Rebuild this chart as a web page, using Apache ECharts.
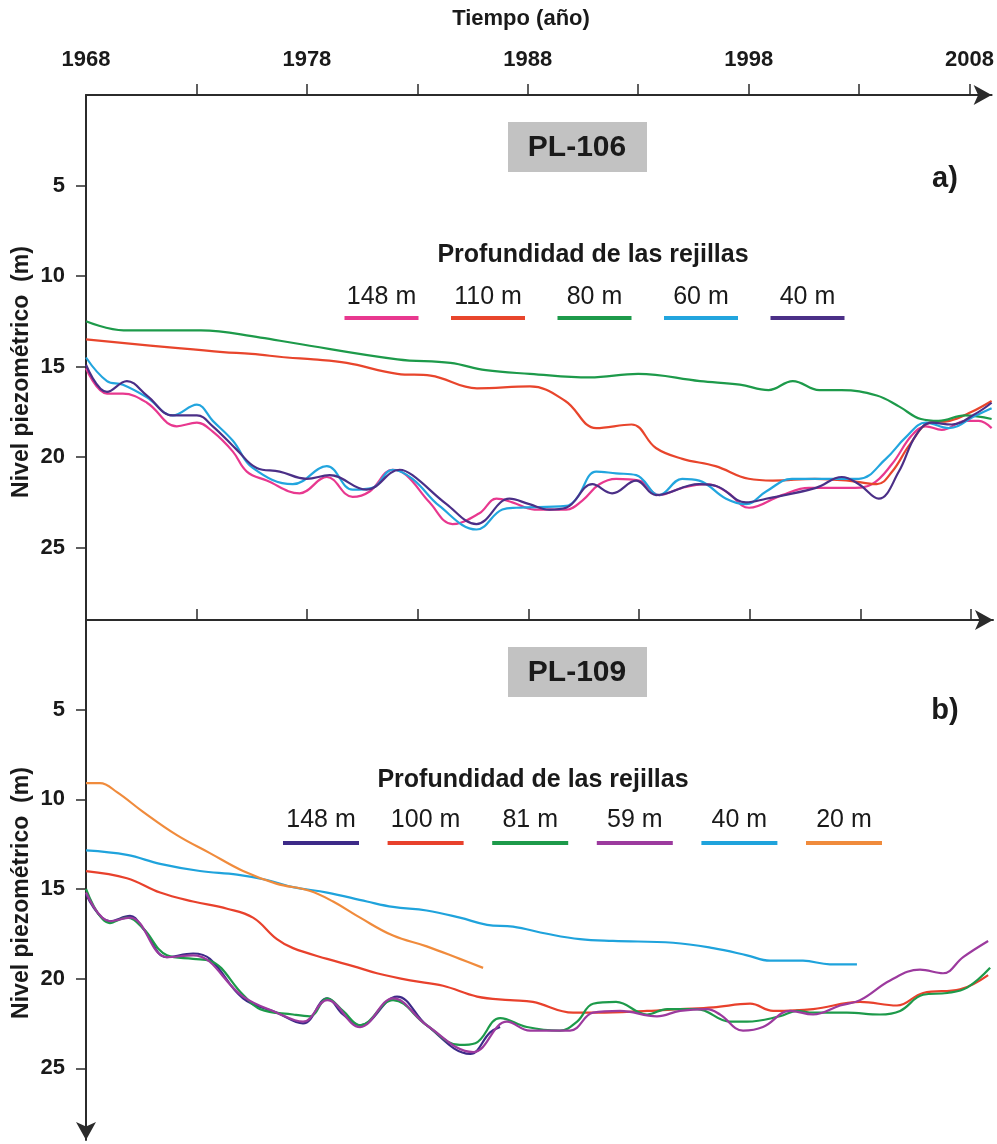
<!DOCTYPE html>
<html>
<head>
<meta charset="utf-8">
<script src="https://cdn.jsdelivr.net/npm/echarts@6/dist/echarts.min.js"></script>
<style>
  html, body { margin: 0; padding: 0; background: #fff; }
  #chart { width: 997px; height: 1144px; }
</style>
</head>
<body>
<div id="chart"></div>
<script>
// ---- datos: [año, nivel piezométrico (m)] ----
// PL-106
const a148 = [[1968,15.1],[1968.95,16.5],[1969.67,16.5],[1970.76,17.0],[1972.11,18.3],[1973.02,18.1],[1973.74,18.6],[1974.65,19.7],[1975.28,20.8],[1976.18,21.3],[1977.67,22.0],[1978.9,21.1],[1980.07,22.2],[1980.84,21.9],[1981.88,20.7],[1982.5,21.0],[1983.55,22.5],[1984.59,23.7],[1985.81,23.1],[1986.58,22.3],[1987.3,22.5],[1988.3,22.9],[1989.74,22.9],[1990.47,22.4],[1991.24,21.5],[1992.0,21.2],[1993.04,21.3],[1993.95,22.1],[1994.99,21.7],[1996.07,21.5],[1996.98,21.9],[1998.02,22.8],[1999.51,22.1],[2000.73,21.7],[2002.67,21.7],[2003.58,21.5],[2004.48,20.4],[2005.39,18.8],[2006.02,18.3],[2006.74,18.5],[2007.83,18.0],[2008.42,18.0],[2009,18.4]];
const a110 = [[1968,13.5],[1972.3,14.0],[1974.2,14.2],[1975.5,14.3],[1977.1,14.5],[1978.3,14.6],[1979.8,14.8],[1982.1,15.4],[1983.6,15.5],[1985.7,16.2],[1988.1,16.1],[1989.7,16.9],[1991.1,18.4],[1992.7,18.2],[1993.8,19.5],[1995,20.1],[1996.5,20.5],[1998,21.2],[1999.1,21.3],[2001,21.2],[2002.5,21.3],[2003.8,21.5],[2004.5,20.8],[2005.3,19.3],[2006.2,18.1],[2007.1,18.0],[2008.1,17.5],[2009,16.9]];
const a80 = [[1968,12.5],[1969.7,13.0],[1973.2,13.0],[1975.9,13.4],[1977.4,13.7],[1982.1,14.6],[1984.5,14.8],[1986.1,15.2],[1988.1,15.4],[1990.8,15.6],[1993.0,15.4],[1995.8,15.8],[1997.6,16.0],[1998.9,16.3],[2000.0,15.8],[2001.2,16.3],[2002.2,16.3],[2003.8,16.6],[2004.8,17.2],[2005.8,17.9],[2006.6,18.0],[2007.8,17.7],[2009,17.9]];
const a60 = [[1968,14.5],[1968.95,15.8],[1969.67,16.0],[1970.76,16.7],[1971.93,17.7],[1973.02,17.1],[1973.74,18.0],[1974.65,19.1],[1975.55,20.6],[1977.36,21.5],[1978.9,20.5],[1980.07,21.8],[1980.97,21.7],[1981.88,20.7],[1982.78,21.2],[1984.0,22.7],[1985.68,24.0],[1986.85,22.9],[1987.48,22.8],[1989.74,22.7],[1990.2,22.3],[1991.1,20.8],[1992.0,20.9],[1992.91,21.0],[1993.95,22.1],[1994.99,21.2],[1995.76,21.3],[1996.98,22.3],[1997.88,22.6],[1998.79,21.9],[1999.96,21.2],[2001.77,21.2],[2002.99,21.2],[2004.21,20.1],[2005.12,18.9],[2006.02,18.1],[2007.06,18.4],[2008.28,17.7],[2009,17.3]];
const a40 = [[1968,14.9],[1968.95,16.4],[1969.85,15.8],[1970.76,16.6],[1971.93,17.7],[1973.02,17.7],[1973.74,18.3],[1974.83,19.6],[1975.73,20.6],[1976.77,20.8],[1977.99,21.2],[1979.03,21.0],[1980.7,21.8],[1982.2,20.7],[1982.78,21.0],[1984.32,22.6],[1985.68,23.7],[1987.17,22.3],[1988.07,22.6],[1988.98,22.9],[1989.74,22.8],[1990.92,21.5],[1991.82,22.0],[1992.91,21.3],[1993.81,22.1],[1995.76,21.5],[1996.53,21.6],[1997.88,22.5],[1998.79,22.3],[2001.05,21.7],[2002.22,21.1],[2002.99,21.5],[2003.89,22.3],[2004.8,20.8],[2005.57,18.8],[2006.29,18.1],[2007.2,18.2],[2008.28,17.6],[2009,17.0]];
// PL-109
const b148 = [[1968,15.3],[1969.08,16.8],[1969.99,16.5],[1970.58,17.2],[1971.66,18.8],[1972.84,18.6],[1973.6,18.9],[1975.1,21.1],[1976.63,21.9],[1977.81,22.5],[1978.9,21.1],[1979.62,22.0],[1980.39,22.6],[1982.06,21.0],[1983.4,22.6],[1985.37,24.2],[1986.27,23.0],[1986.72,22.7]];
const b100 = [[1968,14.0],[1969.85,14.4],[1971.35,15.2],[1972.84,15.7],[1974.38,16.1],[1975.55,16.6],[1976.63,17.8],[1977.36,18.3],[1978.9,18.9],[1980.07,19.3],[1981.15,19.7],[1982.65,20.1],[1984.14,20.4],[1985.68,21.0],[1987.17,21.2],[1988.2,21.3],[1990.02,21.9],[1991.1,21.9],[1993.36,21.8],[1994.85,21.7],[1996.35,21.6],[1998.02,21.4],[1999.06,21.8],[2000.87,21.7],[2002.99,21.3],[2004.66,21.5],[2005.84,20.8],[2007.51,20.6],[2008.78,19.8]];
const b81 = [[1968,15.0],[1969.08,16.9],[1969.85,16.6],[1970.58,17.2],[1971.66,18.7],[1972.84,18.9],[1973.6,19.0],[1975.1,20.9],[1975.87,21.7],[1977.36,22.0],[1978.12,22.1],[1978.9,21.1],[1979.62,21.8],[1980.39,22.6],[1981.88,21.2],[1983.4,22.6],[1984.9,23.7],[1985.6,23.6],[1986.72,22.2],[1987.93,22.7],[1989.42,22.9],[1990.2,22.4],[1990.92,21.4],[1991.96,21.3],[1993.36,22.0],[1994.27,21.7],[1995.62,21.7],[1997.11,22.4],[1997.88,22.4],[1999.37,22.1],[2000.14,21.8],[2000.87,21.9],[2002.4,21.9],[2003.89,22.0],[2004.8,21.8],[2005.84,20.9],[2006.93,20.8],[2007.83,20.5],[2008.87,19.4]];
const b59 = [[1968,15.2],[1969.08,16.8],[1969.99,16.6],[1971.66,18.8],[1972.84,18.7],[1975.1,21.0],[1976.63,21.9],[1977.81,22.4],[1978.9,21.2],[1980.39,22.7],[1981.88,21.1],[1983.4,22.6],[1985.5,24.1],[1987.03,22.4],[1988.07,22.9],[1989.88,22.9],[1990.92,21.9],[1992.14,21.8],[1993.81,22.1],[1994.85,21.8],[1996.07,21.7],[1996.66,22.0],[1997.7,22.9],[1998.6,22.7],[1999.83,21.8],[2000.87,22.0],[2002.09,21.5],[2002.99,21.2],[2004.35,20.1],[2005.7,19.5],[2006.74,19.7],[2007.65,18.8],[2008.78,17.9]];
const b40 = [[1968,12.85],[1969.85,13.1],[1971.35,13.6],[1973.15,14.0],[1974.83,14.2],[1976.18,14.5],[1977.36,14.9],[1978.9,15.2],[1980.7,15.7],[1981.88,16.0],[1983.4,16.2],[1984.9,16.6],[1986.13,17.0],[1987.3,17.1],[1988.84,17.5],[1990.33,17.8],[1991.82,17.9],[1994.54,18.0],[1996.35,18.3],[1997.88,18.7],[1998.92,19.0],[2000.41,19.0],[2001.63,19.2],[2002.85,19.2]];
const b20 = [[1968,9.1],[1968.63,9.1],[1969.4,9.6],[1970.58,10.7],[1972.11,12.0],[1973.6,13.0],[1975.1,14.0],[1976.6,14.7],[1978.1,15.1],[1979.17,15.7],[1980.39,16.6],[1981.88,17.6],[1983.4,18.2],[1984.9,18.9],[1985.95,19.4]];

const yearTicks = [1973, 1978, 1983, 1988, 1993, 1998, 2003, 2008];
const yearLabels = [1968, 1978, 1988, 1998, 2008];
const depthTicks = [5, 10, 15, 20, 25];

const namesA = ['148 m', '110 m', '80 m', '60 m', '40 m'];
const seriesA = [a148, a110, a80, a60, a40];
const colorsA = ['#e8388f', '#e8452c', '#1d9a4a', '#22a5de', '#4b2f87'];

const namesB = ['148 m', '100 m', '81 m', '59 m', '40 m', '20 m'];
const seriesB = [b148, b100, b81, b59, b40, b20];
const colorsB = ['#3d2a88', '#e8412c', '#1d9a4a', '#9c3a9e', '#1fa3dc', '#f08b3c'];

const FONT = '"Liberation Sans", Arial, sans-serif';
const AXIS_COLOR = '#2b2b2b';

const chart = echarts.init(document.getElementById('chart'), null, { renderer: 'canvas' });

function xAxisFor(gridIndex, withLabels) {
  return {
    type: 'value',
    gridIndex: gridIndex,
    position: 'top',
    min: 1968,
    max: 2009,
    axisLine: {
      show: true,
      onZero: false,
      symbol: ['none', 'arrow'],
      symbolSize: [15, 18],
      symbolOffset: [0, 0],
      lineStyle: { color: AXIS_COLOR, width: 2 }
    },
    axisTick: {
      show: true,
      customValues: yearTicks,
      length: 11,
      lineStyle: { color: AXIS_COLOR, width: 1.5 }
    },
    axisLabel: {
      show: withLabels,
      customValues: yearLabels,
      formatter: (v) => String(v),
      margin: 24,
      color: '#1a1a1a',
      fontFamily: FONT,
      fontWeight: 'bold',
      fontSize: 22
    },
    splitLine: { show: false }
  };
}

function yAxisFor(gridIndex, arrow) {
  return {
    type: 'value',
    gridIndex: gridIndex,
    inverse: true,
    min: 0,
    max: 29,
    axisLine: {
      show: true,
      onZero: false,
      // eje invertido: la flecha va en el extremo inicial (abajo)
      symbol: arrow ? ['arrow', 'none'] : ['none', 'none'],
      symbolSize: [15, 18],
      symbolOffset: [0, 0],
      lineStyle: { color: AXIS_COLOR, width: 2 }
    },
    axisTick: {
      show: true,
      customValues: depthTicks,
      length: 10,
      lineStyle: { color: AXIS_COLOR, width: 1.5 }
    },
    axisLabel: {
      customValues: depthTicks,
      margin: 21,
      color: '#1a1a1a',
      fontFamily: FONT,
      fontWeight: 'bold',
      fontSize: 22
    },
    splitLine: { show: false }
  };
}

function makeSeries(list, names, colors, idx) {
  return list.map((d, i) => ({
    name: names[i],
    type: 'line',
    xAxisIndex: idx,
    yAxisIndex: idx,
    data: d,
    smooth: 0.4,
    showSymbol: false,
    silent: true,
    lineStyle: { color: colors[i], width: 2.2 },
    z: 3
  }));
}

// leyenda: etiqueta arriba, trazo de color abajo
function legendGraphics(names, colors, cfg) {
  const out = [{
    type: 'text', x: cfg.titleX, y: cfg.titleY,
    style: { text: 'Profundidad de las rejillas', fill: '#1a1a1a', font: 'bold 25px ' + FONT, textAlign: 'center', textVerticalAlign: 'middle' }
  }];
  const n = names.length;
  names.forEach((nm, i) => {
    const cx = cfg.cx + (i - (n - 1) / 2) * cfg.step;
    out.push({
      type: 'text', x: cx, y: cfg.labelY,
      style: { text: nm, fill: '#1a1a1a', font: '25px ' + FONT, textAlign: 'center', textVerticalAlign: 'middle' }
    });
    out.push({
      type: 'line',
      shape: { x1: cx - cfg.lineW / 2, y1: cfg.lineY, x2: cx + cfg.lineW / 2, y2: cfg.lineY },
      style: { stroke: colors[i], lineWidth: 4 }
    });
  });
  return out;
}

function wellLabel(text, top) {
  return {
    type: 'group', x: 508, y: top,
    children: [
      { type: 'rect', shape: { x: 0, y: 0, width: 139, height: 50 }, style: { fill: '#c2c2c2' } },
      { type: 'text', x: 69, y: 26, style: { text: text, fill: '#1a1a1a', font: 'bold 30px ' + FONT, textAlign: 'center', textVerticalAlign: 'middle' } }
    ]
  };
}

const graphics = [
  { type: 'text', x: 521, y: 19, style: { text: 'Tiempo (año)', fill: '#1a1a1a', font: 'bold 22px ' + FONT, textAlign: 'center', textVerticalAlign: 'middle' } },
  { type: 'text', x: 22, y: 372, rotation: Math.PI / 2, style: { text: 'Nivel piezométrico  (m)', fill: '#1a1a1a', font: 'bold 23px ' + FONT, textAlign: 'center', textVerticalAlign: 'middle' } },
  { type: 'text', x: 22, y: 893, rotation: Math.PI / 2, style: { text: 'Nivel piezométrico  (m)', fill: '#1a1a1a', font: 'bold 23px ' + FONT, textAlign: 'center', textVerticalAlign: 'middle' } },
  wellLabel('PL-106', 122),
  wellLabel('PL-109', 647),
  { type: 'text', x: 945, y: 179, style: { text: 'a)', fill: '#1a1a1a', font: 'bold 29px ' + FONT, textAlign: 'center', textVerticalAlign: 'middle' } },
  { type: 'text', x: 945, y: 711, style: { text: 'b)', fill: '#1a1a1a', font: 'bold 29px ' + FONT, textAlign: 'center', textVerticalAlign: 'middle' } }
].concat(
  legendGraphics(namesA, colorsA, { titleX: 593, titleY: 255, cx: 594.5, step: 106.5, labelY: 297, lineY: 318, lineW: 74 }),
  legendGraphics(namesB, colorsB, { titleX: 533, titleY: 780, cx: 582.5, step: 104.6, labelY: 820, lineY: 843, lineW: 76 })
);

const option = {
  backgroundColor: '#ffffff',
  animation: false,
  grid: [
    { left: 86, top: 95, width: 907, height: 525 },
    { left: 86, top: 620, width: 907, height: 520 }
  ],
  xAxis: [xAxisFor(0, true), xAxisFor(1, false)],
  yAxis: [yAxisFor(0, false), yAxisFor(1, true)],
  series: makeSeries(seriesA, namesA, colorsA, 0).concat(makeSeries(seriesB, namesB, colorsB, 1)),
  graphic: graphics
};

chart.setOption(option);
</script>
</body>
</html>
